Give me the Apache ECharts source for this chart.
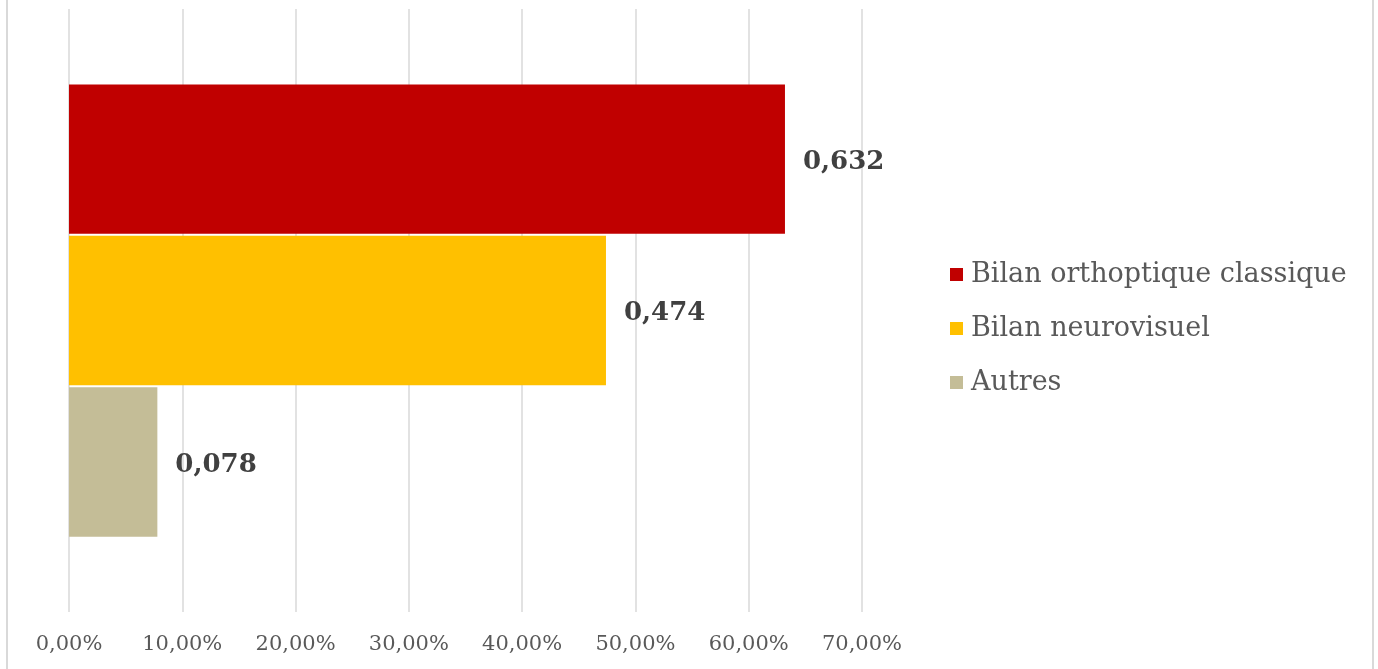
<!DOCTYPE html>
<html><head><meta charset="utf-8">
<script src="https://cdn.jsdelivr.net/npm/echarts@6/dist/echarts.min.js"></script>
<style>
html,body{margin:0;padding:0;background:#fff;}
#frame{position:absolute;left:6px;top:-2px;width:1364px;height:673px;border-left:2px solid #d9d9d9;border-right:2px solid #d9d9d9;}
#c{position:absolute;left:0;top:0;width:1378px;height:669px;}
</style></head>
<body>
<div id="frame"></div>
<div id="c"></div>
<script>
const categories = ['Type de bilan'];
const seriesNames = ['Bilan orthoptique classique', 'Bilan neurovisuel', 'Autres'];
const seriesValues = [[0.632], [0.474], [0.078]];
const seriesColors = ['#c00000', '#ffc000', '#c4bd97'];
const labelTexts = [['0,632'], ['0,474'], ['0,078']];
const xTicks = [0, 0.1, 0.2, 0.3, 0.4, 0.5, 0.6, 0.7];

const FONT = 'DejaVu Serif';
const chart = echarts.init(document.getElementById('c'), null, {renderer: 'canvas'});
chart.setOption({
  animation: false,
  legend: {
    orient: 'vertical',
    left: 945, top: 253,
    itemWidth: 13, itemHeight: 13, itemGap: 21,
    icon: 'rect',
    textStyle: {fontFamily: FONT, fontSize: 27, color: '#595959', padding: [0, 0, 0, 3], lineHeight: 33},
    data: seriesNames
  },
  grid: {left: 69, right: 516, top: 9, bottom: 57, containLabel: false},
  xAxis: {
    type: 'value', min: 0, max: 0.7, interval: 0.1,
    axisLine: {show: false}, axisTick: {show: false},
    splitLine: {lineStyle: {color: '#d9d9d9', width: 1.5}},
    axisLabel: {
      margin: 22, fontFamily: FONT, fontSize: 21, color: '#595959',
      formatter: v => (v * 100).toFixed(2).replace('.', ',') + '%'
    }
  },
  yAxis: {
    type: 'category', data: categories, inverse: true,
    axisLine: {show: false}, axisTick: {show: false}, axisLabel: {show: false}
  },
  series: seriesNames.map((name, i) => ({
    name, type: 'bar', data: seriesValues[i],
    barCategoryGap: '25%', barGap: '1.5%',
    itemStyle: {color: seriesColors[i]},
    label: {
      show: true, position: 'right', distance: 18, offset: [0, 3],
      fontFamily: FONT, fontSize: 26, fontWeight: 'bold', color: '#404040',
      formatter: p => labelTexts[i][p.dataIndex]
    }
  }))
});
</script>
</body></html>
